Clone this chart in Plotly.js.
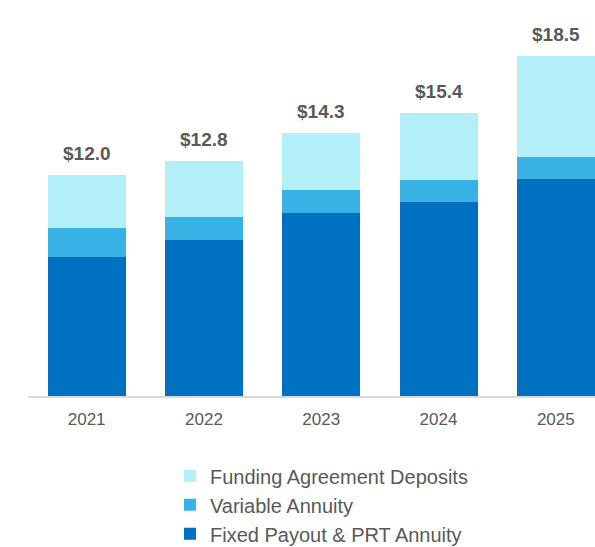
<!DOCTYPE html>
<html><head><meta charset="utf-8">
<script src="https://cdn.plot.ly/plotly-3.0.1.min.js"></script>
<style>html,body{margin:0;padding:0;background:#fff}#chart{width:595px;height:547px}</style>
</head><body><div id="chart"></div>
<script>
const years = ['2021','2022','2023','2024','2025'];
const fixedPayout = [7.56, 8.49, 9.96, 10.55, 11.81];
const variableAnnuity = [1.58, 1.25, 1.25, 1.20, 1.19];
const fundingAgreement = [2.86, 3.06, 3.09, 3.65, 5.50];
const totals = [12.0, 12.8, 14.3, 15.4, 18.5];
const totalLabels = ['$12.0', '$12.8', '$14.3', '$15.4', '$18.5'];

const font = 'Liberation Sans, Arial, sans-serif';
const gray = '#595959';

const traces = [
  {type:'bar', name:'Fixed Payout & PRT Annuity', x:years, y:fixedPayout, marker:{color:'#0070c0', line:{width:0}}, hoverinfo:'skip'},
  {type:'bar', name:'Variable Annuity', x:years, y:variableAnnuity, marker:{color:'#38b2e4', line:{width:0}}, hoverinfo:'skip'},
  {type:'bar', name:'Funding Agreement Deposits', x:years, y:fundingAgreement, marker:{color:'#b3eff9', line:{width:0}}, hoverinfo:'skip'}
];

// category axis: annotation x given as the category index
const annotations = years.map((yr, i) => ({
  x: i, y: totals[i], xref:'x', yref:'y', text: '<b>' + totalLabels[i] + '</b>', showarrow:false,
  xanchor:'center', yanchor:'bottom', yshift: 9, font:{family:font, size:19, color:gray}
}));

const layout = {
  width:595, height:547,
  margin:{l:28, r:0, t:0, b:151, autoexpand:false},
  barmode:'stack', bargap:0.335,
  paper_bgcolor:'#fff', plot_bgcolor:'#fff',
  showlegend:true,
  legend:{orientation:'v', traceorder:'reversed', x:0.2504, xanchor:'left', y:-0.152, yanchor:'top',
    font:{family:font, size:20, color:gray}, itemclick:false, tracegroupgap:0},
  xaxis:{type:'category', range:[-0.5, 4.334], showgrid:false, showline:true, linecolor:'#d9d9d9', linewidth:2,
    ticks:'outside', ticklen:7, tickcolor:'rgba(0,0,0,0)', tickfont:{family:font, size:17, color:gray}, fixedrange:true},
  yaxis:{range:[0, 21.55], visible:false, showgrid:false, zeroline:false, fixedrange:true},
  annotations: annotations
};
Plotly.newPlot('chart', traces, layout, {displayModeBar:false, staticPlot:true});
</script></body></html>
